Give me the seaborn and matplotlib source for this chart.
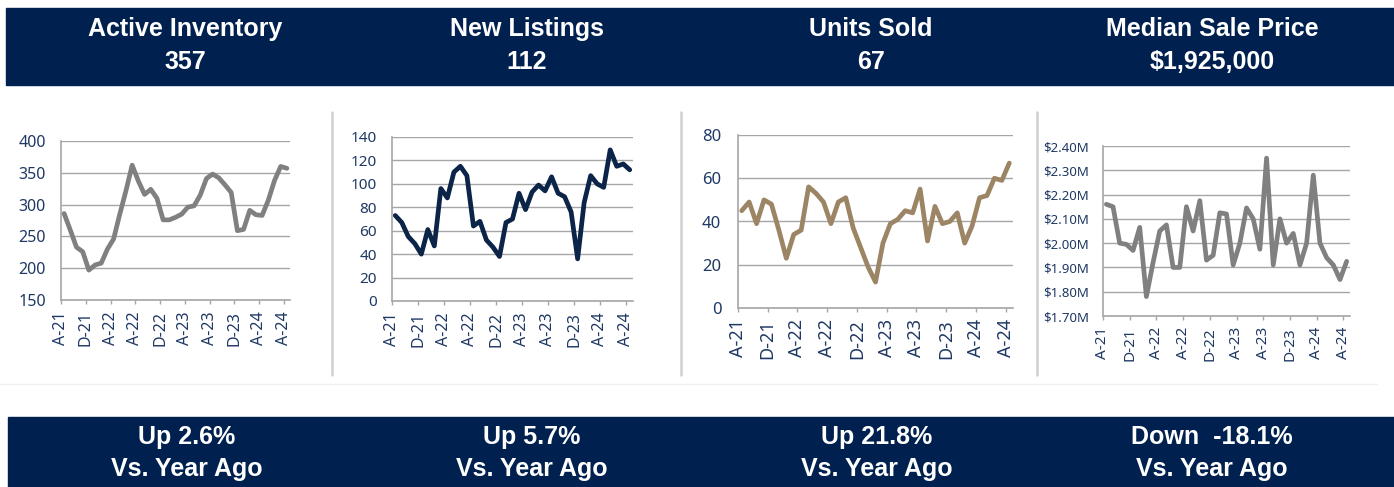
import numpy as np
import pandas as pd
import matplotlib
matplotlib.use("Agg")
import matplotlib.pyplot as plt
from matplotlib.patches import Rectangle
from matplotlib.lines import Line2D
from matplotlib.ticker import FuncFormatter
import seaborn as sns

# Monthly series, Aug 2021 through Aug 2024
active_inventory = [286, 260, 233, 226, 197, 205, 208, 230, 246, 285, 322, 362,
                    337, 316, 324, 310, 276, 276, 280, 285, 296, 298, 315, 341,
                    348, 342, 331, 319, 259, 261, 291, 284, 283, 307, 338, 360, 357]
new_listings = [73, 67, 55, 49, 40, 61, 47, 96, 88, 110, 115, 107,
                64, 68, 52, 46, 38, 67, 70, 92, 78, 93, 99, 94,
                106, 92, 89, 76, 36, 84, 107, 100, 97, 129, 115, 117, 112]
units_sold = [45, 49, 39, 50, 48, 36, 23, 34, 36, 56, 53, 49,
              39, 49, 51, 37, 28, 19, 12, 30, 39, 41, 45, 44,
              55, 31, 47, 39, 40, 44, 30, 38, 51, 52, 60, 59, 67]
median_price_m = [2.16, 2.15, 2.00, 1.995, 1.97, 2.065, 1.78, 1.92, 2.05, 2.075, 1.90, 1.90,
                  2.15, 2.05, 2.175, 1.93, 1.95, 2.125, 2.12, 1.91, 2.00, 2.145, 2.10, 1.975,
                  2.35, 1.91, 2.10, 2.00, 2.04, 1.91, 2.00, 2.28, 2.00, 1.94, 1.91, 1.85, 1.925]

tick_labels = ["A-21", "D-21", "A-22", "A-22", "D-22", "A-23", "A-23", "D-23", "A-24", "A-24"]

titles = ["Active Inventory", "New Listings", "Units Sold", "Median Sale Price"]
headline_values = ["357", "112", "67", "$1,925,000"]
changes = ["Up 2.6%", "Up 5.7%", "Up 21.8%", "Down  -18.1%"]
change_caption = "Vs. Year Ago"

NAVY = "#00214F"
TICK_COLOR = "#1F3864"
GRID = "#A6A6A6"

sns.set_style("white")
plt.rcParams["font.family"] = ["Noto Sans", "DejaVu Sans"]

W, H = 1394, 487
fig = plt.figure(figsize=(W / 100, H / 100), dpi=100)
fig.patch.set_facecolor("white")


def fx(px):
    return px / W


def fy(py):
    return 1 - py / H


# header and footer bands
fig.patches.append(Rectangle((fx(6), fy(85)), fx(W - 6), (85 - 8) / H,
                             transform=fig.transFigure, color=NAVY, zorder=0))
fig.patches.append(Rectangle((fx(8), fy(487)), fx(W - 8), (487 - 417) / H,
                             transform=fig.transFigure, color=NAVY, zorder=0))

# thin separators
for sx in [332, 681, 1037]:
    fig.lines.append(Line2D([fx(sx), fx(sx)], [fy(112), fy(375)],
                            transform=fig.transFigure, color="#D0D0D0", lw=1.8))
fig.lines.append(Line2D([fx(0), fx(1377)], [fy(384), fy(384)],
                        transform=fig.transFigure, color="#EEEEF4", lw=1.0))

centers_top = [185, 527, 871, 1212]
centers_bot = [187, 532, 877, 1212]
hfont = dict(family=["Liberation Sans", "DejaVu Sans"], weight="bold", color="white",
             fontsize=18, ha="center", va="center")
for cx, t, v in zip(centers_top, titles, headline_values):
    fig.text(fx(cx), fy(29), t, **hfont)
    fig.text(fx(cx), fy(62), v, **hfont)
for cx, c in zip(centers_bot, changes):
    fig.text(fx(cx), fy(437), c, **hfont)
    fig.text(fx(cx), fy(469), change_caption, **hfont)

panels = [
    dict(data=active_inventory, color="#808080", box=(61, 290, 141, 300),
         ylim=(150, 400), yticks=np.arange(150, 401, 50), fs=11.5, xfs=11.5, ypad=11, fmt=None),
    dict(data=new_listings, color="#0B2447", box=(392, 633, 137, 301),
         ylim=(0, 140), yticks=np.arange(0, 141, 20), fs=11, xfs=11.5, ypad=11, fmt=None),
    dict(data=units_sold, color="#9C8565", box=(738, 1013, 135, 308),
         ylim=(0, 80), yticks=np.arange(0, 81, 20), fs=12, xfs=13, ypad=12, fmt=None),
    dict(data=median_price_m, color="#808080", box=(1103, 1350, 146, 316),
         ylim=(1.70, 2.40), yticks=np.round(np.arange(1.70, 2.401, 0.10), 2), fs=9.5, xfs=11,
         ypad=10, fmt=lambda v, p: f"${v:.2f}M"),
]

n = len(active_inventory)
xticks = [4 * k - 0.5 for k in range(len(tick_labels))]

for p in panels:
    x0, x1, yt, yb = p["box"]
    ax = fig.add_axes([fx(x0), fy(yb), fx(x1 - x0), (yb - yt) / H])
    df = pd.DataFrame({"month": np.arange(n), "value": p["data"]})
    sns.lineplot(data=df, x="month", y="value", ax=ax, color=p["color"],
                 linewidth=3.4, solid_joinstyle="round", solid_capstyle="round")
    ax.set_xlim(-0.5, n - 0.5)
    ax.set_ylim(*p["ylim"])
    ax.set_yticks(p["yticks"])
    if p["fmt"] is not None:
        ax.yaxis.set_major_formatter(FuncFormatter(p["fmt"]))
    ax.set_xticks(xticks)
    ax.set_xticklabels(tick_labels, rotation=90)
    ax.set_xlabel("")
    ax.set_ylabel("")
    ax.set_facecolor("none")
    ax.grid(axis="y", color=GRID, lw=1.0)
    ax.set_axisbelow(True)
    for s in ["top", "right"]:
        ax.spines[s].set_visible(False)
    for s in ["left", "bottom"]:
        ax.spines[s].set_color("#A6A6A6")
        ax.spines[s].set_linewidth(1.2)
    ax.tick_params(axis="y", length=0, pad=p["ypad"], labelsize=p["fs"], labelcolor=TICK_COLOR)
    ax.tick_params(axis="x", length=3, width=1, color="#A6A6A6", direction="out",
                   pad=5, labelsize=p["xfs"], labelcolor=TICK_COLOR, bottom=True)

fig.savefig("out.png", dpi=100)
